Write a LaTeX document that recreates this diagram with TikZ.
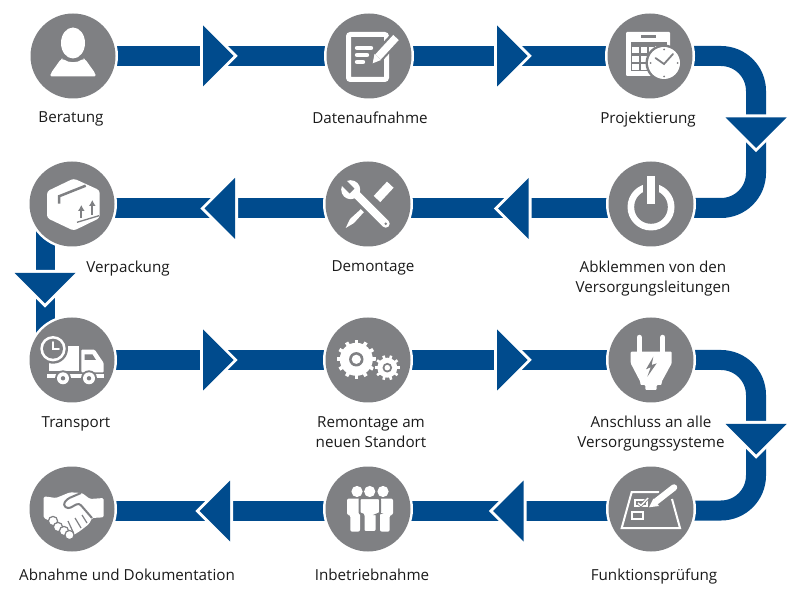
\documentclass[tikz,border=0pt]{standalone}
\usepackage{fontspec}
\setmainfont{Open Sans}
\usetikzlibrary{arrows.meta,positioning,backgrounds,shapes.geometric}
\definecolor{flowblue}{HTML}{004B8D}
\definecolor{icongray}{HTML}{7F8083}
\definecolor{labeltext}{HTML}{1A1A1A}
\begin{document}
\begin{tikzpicture}[
  x=1pt,y=1pt,
  stepcircle/.style={circle,fill=icongray,minimum size=85pt,inner sep=0pt,outer sep=0pt,preaction={draw=white,line width=5pt}},
  steptext/.style={font=\fontsize{15.2pt}{20pt}\selectfont,text=labeltext,align=center,inner sep=0pt,outer sep=0pt},
  flow/.style={draw=flowblue,line width=20pt},
  arrowtip/.style={isosceles triangle,isosceles triangle apex angle=90,isosceles triangle stretches,minimum width=61pt,minimum height=30.5pt,inner sep=0pt,outer sep=0pt,fill=flowblue,anchor=lower side,preaction={draw=white,line width=6pt}},
  ic/.style={fill=white},
  ig/.style={fill=icongray},
  il/.style={draw=white,line cap=round},
  gl/.style={draw=icongray},
  node distance=64pt
]
\useasboundingbox (0,0) rectangle (800,608);
% steps, row by row
\node[stepcircle] (beratung) at (73,552) {};
\node[stepcircle,right=211pt of beratung] (daten) {};
\node[stepcircle,right=196pt of daten] (projekt) {};
\node[stepcircle,below=63pt of projekt,xshift=1pt] (abklemmen) {};
\node[stepcircle,left=198pt of abklemmen] (demontage) {};
\node[stepcircle,left=211pt of demontage] (verpackung) {};
\node[stepcircle,below=71pt of verpackung] (transport) {};
\node[stepcircle,right=211pt of transport] (remontage) {};
\node[stepcircle,right=198pt of remontage] (anschluss) {};
\node[stepcircle,below=64pt of anschluss] (funktion) {};
\node[stepcircle,left=198pt of funktion] (inbetrieb) {};
\node[stepcircle,left=211pt of inbetrieb] (abnahme) {};
% labels
\node[steptext,below=13pt of beratung,xshift=-2pt] (tberatung) {Beratung};
\node[steptext,below=13pt of daten,xshift=1pt] (tdaten) {Datenaufnahme};
\node[steptext,below=13pt of projekt,xshift=-2pt] (tprojekt) {Projektierung};
\node[steptext,below=14pt of abklemmen,xshift=2pt] (tabklemmen) {Abklemmen von den\\Versorgungsleitungen};
\node[steptext,below=14.5pt of demontage,xshift=5pt] (tdemontage) {Demontage};
\node[steptext,below=14.5pt of verpackung,xshift=56pt] (tverpackung) {Verpackung};
\node[steptext,below=14pt of transport,xshift=4pt] (ttransport) {Transport};
\node[steptext,below=14pt of remontage,xshift=3pt] (tremontage) {Remontage am\\neuen Standort};
\node[steptext,below=13pt of anschluss] (tanschluss) {Anschluss an alle\\Versorgungssysteme};
\node[steptext,below=17pt of funktion,xshift=3pt] (tfunktion) {Funktionspr\"ufung};
\node[steptext,below=17pt of inbetrieb,xshift=4pt] (tinbetrieb) {Inbetriebnahme};
\node[steptext,below=17pt of abnahme,xshift=55pt] (tabnahme) {Abnahme und Dokumentation};
% arrow heads
\node[arrowtip] (tipa) at (203,552) {};
\node[arrowtip] (tipb) at (497,552) {};
\node[arrowtip,shape border rotate=270] (tipc) at (756,490.5) {};
\node[arrowtip,shape border rotate=180] (tipd) at (528.7,399.5) {};
\node[arrowtip,shape border rotate=180] (tipe) at (235,399.5) {};
\node[arrowtip,shape border rotate=270] (tipf) at (45,335) {};
\node[arrowtip] (tipg) at (203,248) {};
\node[arrowtip] (tiph) at (497,248) {};
\node[arrowtip,shape border rotate=270] (tipi) at (756,184) {};
\node[arrowtip,shape border rotate=180] (tipj) at (523.7,97) {};
\node[arrowtip,shape border rotate=180] (tipk) at (230,97) {};
% bars behind everything
\coordinate (corna) at (756,552);
\coordinate (cornb) at (756,400);
\coordinate (cornc) at (756,248);
\coordinate (cornd) at (756,97.5);
\begin{scope}[on background layer]
\draw[flow] (beratung)--(daten);
\draw[flow] (daten)--(projekt);
\draw[flow,rounded corners=35pt] (projekt)--(corna)--(cornb)--([yshift=-4pt]abklemmen.center);
\draw[flow] ([yshift=-4pt]abklemmen.center)--([yshift=-4pt]demontage.center);
\draw[flow] ([yshift=-4pt]demontage.center)--([yshift=-4pt]verpackung.center);
\draw[flow,line width=19pt] ([xshift=-27pt]verpackung.center)--([xshift=-27pt]transport.center);
\draw[flow] (transport)--(remontage);
\draw[flow] (remontage)--(anschluss);
\draw[flow,rounded corners=35pt] (anschluss)--(cornc)--(cornd)--([yshift=-1.5pt]funktion.center);
\draw[flow] ([yshift=-1.5pt]funktion.center)--([yshift=-1.5pt]inbetrieb.center);
\draw[flow] ([yshift=-1.5pt]inbetrieb.center)--([yshift=-1.5pt]abnahme.center);
\end{scope}
% icons
\begin{scope}[shift={(beratung.center)}]
\fill[ic] (0,13) ellipse (12 and 15.5);
\fill[ic,rounded corners=2pt] (-23,-20.5)--(-22,-17)--(-12,-3)--(-10,-2.5)..controls (-5,-7) and (5,-7)..(10,-2.5)--(12,-3)--(22,-17)--(23,-20.5)--cycle;
\end{scope}
\begin{scope}[shift={(daten.center)}]
\draw[il,line width=5pt,rounded corners=2pt,fill=icongray] (-20.5,21.5) rectangle (17.5,-23.5);
\foreach \yy/\xx in {8/2,1/-2,-6/-6}
  \draw[il,line width=4.4pt] (-12,\yy)--(\xx,\yy);
\draw[gl,line width=12pt] (6,-4)--(29,21);
\draw[draw=white,line width=7.5pt] (9,-1)--(27,18.5);
\fill[ic] (3.7,-7.3)--(5.5,2)--(12,-4)--cycle;
\end{scope}
\begin{scope}[shift={(projekt.center)}]
\fill[ic,rounded corners=1pt] (-24,24) rectangle (20,-20);
\fill[ig] (-9,20.5) rectangle (6,17.5);
\fill[ig] (-19,13.5) rectangle (17,10);
\fill[ig] (-19,10) rectangle (5,-15);
\foreach \xx in {-18,-9.5,-1}
  \foreach \yy in {-6,2.5}
    \fill[ic] (\xx,\yy) rectangle ++(6.5,6);
\fill[ic] (-18,-14) rectangle ++(6.5,6);
\fill[ic] (-9.5,-14) rectangle ++(6.5,6);
\fill[ig] (14,-7) circle (18.5);
\fill[ic] (14,-7) circle (16);
\draw[gl,line width=1.8pt,line cap=round] (5.5,-2)--(14,-8)--(23,2);
\foreach \aa in {0,90,180,270}
  \fill[ig] (14,-7)++(\aa:13.5) circle (1);
\end{scope}
\begin{scope}[shift={(abklemmen.center)}]
\fill[ic] (0,-3) circle (23.5);
\fill[ig] (0,-3) circle (16.8);
\fill[ig] (-8,0) rectangle (8,30);
\fill[ic] (-4,0) rectangle (4,28);
\end{scope}
\begin{scope}[shift={(demontage.center)}]
\draw[draw=white,line width=9pt] (22.3,19.3)--(9,5);
\fill[ic] (-4.2,-8.2)--(-7.2,-5.2)--(-18,-15)--(-22.3,-24)--(-14,-19)--cycle;
\draw[il,line width=8pt] (17.7,-19.7)--(-14,12);
\fill[ic] (-17.3,14.3) circle (9.5);
\draw[gl,line width=7pt] (-16,13)--(-27,24);
\fill[ig] (17.7,-19.7) circle (1.4);
\end{scope}
\begin{scope}[shift={(verpackung.center)}]
\fill[ic,rounded corners=3pt] (1.7,25.5)--(27.7,13.7)--(27.7,-14)--(1.7,-26.7)--(-25,-14)--(-25,12.7)--cycle;
\draw[gl,line width=2.5pt] (-13,0.3)--(-13,7.7)--(13.7,18.3);
\draw[gl,line width=2.2pt,-{Latex[length=6pt,width=7pt]}] (9.3,-14)--(9.3,-1);
\draw[gl,line width=2.2pt,-{Latex[length=6pt,width=7pt]}] (20.3,-11)--(20.3,4);
\draw[gl,line width=1.3pt] (5,-18.3)--(27,-11.7);
\end{scope}
\begin{scope}[shift={(transport.center)}]
\fill[ic] (-22.7,13.7) rectangle (7,-11.3);
\fill[ic,rounded corners=1pt] (9.3,10.3)--(22.7,10.3)--(31.7,-3)--(31.7,-12.3)--(9.3,-12.3)--cycle;
\fill[ig] (12.5,5.5)--(20.5,5.5)--(24,0)--(12.5,0)--cycle;
\fill[ic] (-25,-13.7) rectangle (32,-18);
\foreach \xx in {-9,17} {
  \fill[ig] (\xx,-18.3) circle (8);
  \fill[ic] (\xx,-18.3) circle (6);
  \fill[ig] (\xx,-18.3) circle (2.2);
}
\fill[ig] (-19,11.3) circle (15);
\fill[ic] (-19,11.3) circle (12.7);
\fill[ig] (-19,11.3) circle (10);
\draw[il,line width=1.6pt] (-19,18)--(-19,11)--(-13,11);
\end{scope}
\begin{scope}[shift={(remontage.center)}]
\fill[ic] (-11.7,0.7) circle (16.5);
\foreach \aa in {0,30,...,330}
  \draw[draw=white,line width=3.6pt] (-11.7,0.7)++(\aa:14)--++(\aa:5.5);
\fill[ig] (-11.7,0.7) circle (7.2);
\fill[ic] (-11.7,0.7) circle (4.6);
\fill[ig] (19.3,-7.7) circle (13.8);
\fill[ic] (19.3,-7.7) circle (10);
\foreach \aa in {0,36,...,324}
  \draw[draw=white,line width=2.6pt] (19.3,-7.7)++(\aa:9)--++(\aa:3.6);
\fill[ig] (19.3,-7.7) circle (4.8);
\fill[ic] (19.3,-7.7) circle (2.8);
\end{scope}
\begin{scope}[shift={(anschluss.center)}]
\foreach \xx in {-11.7,11.7}
  \draw[il,line width=5.5pt] (\xx,22.5)--(\xx,6);
\fill[ic,rounded corners=1pt] (-20.3,8.3)--(20.7,8.3)--(20.7,-3.3)--(10.7,-21.7)--(10.7,-25)--(5.7,-25)--(5.7,-30)--(-5.7,-30)--(-5.7,-25)--(-10.7,-25)--(-10.7,-21.7)--(-20.3,-3.3)--cycle;
\fill[ig] (2.3,3.3)--(-5,-9.3)--(-0.3,-7.3)--(-3.7,-16.7)--(5.7,-3.3)--(0.7,-5)--cycle;
\end{scope}
\begin{scope}[shift={(funktion.center)}]
\draw[draw=white,line width=2pt] (8,17)--(-19.3,17)--(-29.3,-19)--(29,-19)--(21,10);
\draw[draw=white,line width=1.8pt] (-16,9.3) rectangle (-4.3,2.7);
\draw[draw=white,line width=1.8pt] (-19,-3.3) rectangle (-7.7,-10);
\draw[gl,line width=3pt] (-13,6)--(-10,3.5)--(-3,11);
\draw[draw=white,line width=1.4pt] (-13,6)--(-10,3.5)--(-3,11);
\draw[gl,line width=10pt] (2,5)--(24,22.7);
\draw[draw=white,line width=6.5pt,line cap=round] (5,7.5)--(23,21.5);
\fill[ic] (-2,1.7)--(2.5,10.5)--(8,3)--cycle;
\end{scope}
\begin{scope}[shift={(inbetrieb.center)}]
\foreach \xx in {-11,1.7,15}
  \fill[ic] (\xx,17.5) circle (5.6);
\fill[ic,rounded corners=2pt] (-21,10.5)--(-8,10.5)--(-8,-22.7)--(-17.7,-22.7)--(-17.7,-6)--(-21,-6)--cycle;
\fill[ic,rounded corners=2pt] (12,10.5)--(25,10.5)--(25,-6)--(21.7,-6)--(21.7,-22.7)--(12,-22.7)--cycle;
\draw[ic,draw=icongray,line width=2pt,rounded corners=2pt] (-8.5,11)--(12,11)--(12,-5)--(8.5,-5)--(8.5,-23)--(-4.5,-23)--(-4.5,-5)--(-8.5,-5)--cycle;
\end{scope}
\begin{scope}[shift={(abnahme.center)}]
\fill[ic,rounded corners=1.5pt] (-28.3,12.7)--(-16,11)--(-2,16.7)--(10,16)--(18,10)--(31.7,11)--(31.7,-8.3)--(20,-9)--(17,-15)--(8,-22)--(0,-27)--(-8,-26)--(-15,-19)--(-20,-13)--(-28.3,-9)--cycle;
\draw[gl,line width=2pt,rounded corners=3pt] (9,16)--(-5,10)--(-9,4)--(-4,0)--(7,6)--(20,-9);
\foreach \xx/\yy in {-19/-12,-14/-18,-8/-22,-2.5/-26}
  \draw[ic,draw=icongray,line width=1.2pt] (\xx,\yy) circle (4.6);
\draw[gl,line width=1.2pt] (-4,-12)--(1.5,-24);
\draw[gl,line width=1.2pt] (3,-9)--(9,-19);
\draw[gl,line width=1.2pt] (10,-6)--(15,-14);
\end{scope}
\end{tikzpicture}
\end{document}
